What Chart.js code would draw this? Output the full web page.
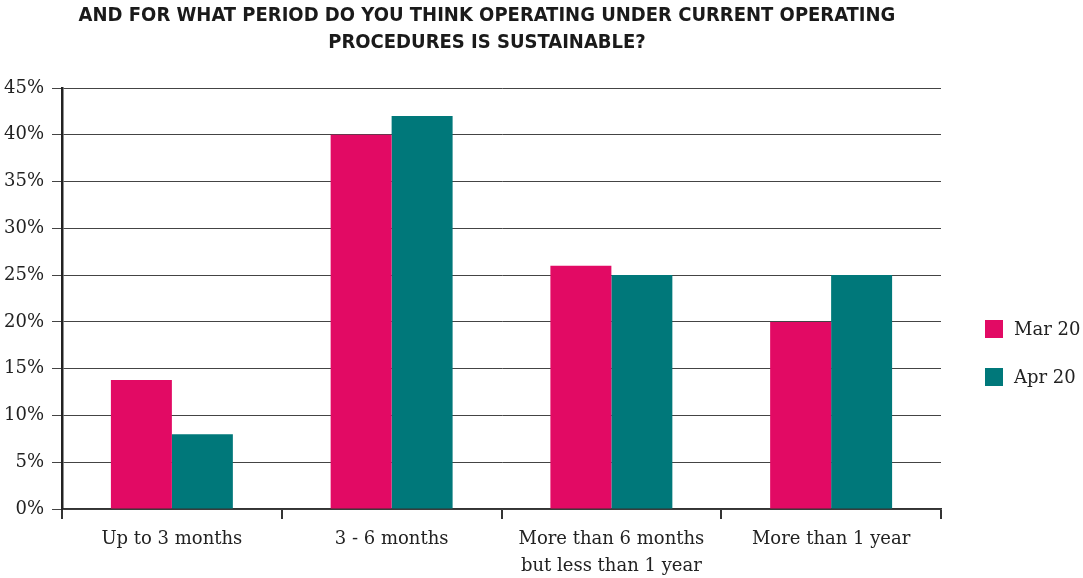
<!DOCTYPE html>
<html>
<head>
<meta charset="utf-8">
<script src="https://cdn.jsdelivr.net/npm/chart.js"></script>
<style>
  html, body { margin: 0; padding: 0; background: #fff; }
  #wrap { width: 1083px; height: 578px; position: relative; }
</style>
</head>
<body>
<div id="wrap"><canvas id="chart"></canvas></div>
<script>
// data
var categories = ['Up to 3 months', '3 - 6 months', ['More than 6 months', 'but less than 1 year'], 'More than 1 year'];
var mar20 = [13.8, 40, 26, 20];
var apr20 = [8, 42, 25, 25];
var seriesNames = ['Mar 20', 'Apr 20'];
var titleLines = ['AND FOR WHAT PERIOD DO YOU THINK OPERATING UNDER CURRENT OPERATING', 'PROCEDURES IS SUSTAINABLE?'];

var pink = '#e20a64';
var teal = '#00787a';
var serif = '"DejaVu Serif", serif';

// title + legend drawn by hand so they sit where the reference has them
var extras = {
  id: 'extras',
  afterDraw: function(chart) {
    var ctx = chart.ctx;
    ctx.save();
    ctx.fillStyle = '#1a1a1a';
    ctx.textAlign = 'center';
    ctx.textBaseline = 'middle';
    ctx.font = 'bold 20px "DejaVu Sans Condensed", "DejaVu Sans", sans-serif';
    titleLines.forEach(function(t, i) {
      ctx.fillText(t, 487, 16 + i * 27);
    });

    ctx.font = '18px ' + serif;
    ctx.textAlign = 'left';
    chart.data.datasets.forEach(function(ds, i) {
      var y = 329 + i * 48;
      ctx.fillStyle = ds.backgroundColor;
      ctx.fillRect(985, y - 9, 18, 18);
      ctx.fillStyle = '#222';
      ctx.fillText(ds.label, 1014, y + 1);
    });
    ctx.restore();
  }
};

new Chart(document.getElementById('chart'), {
  type: 'bar',
  data: {
    labels: categories,
    datasets: [
      { label: seriesNames[0], data: mar20, backgroundColor: pink },
      { label: seriesNames[1], data: apr20, backgroundColor: teal }
    ]
  },
  options: {
    responsive: true,
    maintainAspectRatio: false,
    animation: false,
    layout: { padding: { top: 88, right: 142, left: 0, bottom: 0 } },
    datasets: { bar: { categoryPercentage: 0.555, barPercentage: 1 } },
    plugins: {
      legend: { display: false },
      tooltip: { enabled: false }
    },
    scales: {
      x: {
        grid: { display: true, drawOnChartArea: false, drawTicks: true, tickLength: 10, color: '#333', lineWidth: 2, offset: true },
        border: { color: '#333', width: 1.5 },
        ticks: { color: '#222', font: { family: serif, size: 18, lineHeight: 1.5 }, padding: 7, maxRotation: 0 },
        afterFit: function(s) { s.height = 69; }
      },
      y: {
        min: 0, max: 45,
        ticks: { stepSize: 5, color: '#222', font: { family: serif, size: 18 }, padding: 8,
          callback: function(v) { return v + '%'; } },
        grid: { color: '#444', lineWidth: 1, tickLength: 10 },
        border: { color: '#222', width: 2.5 },
        afterFit: function(s) { s.width = 62; }
      }
    }
  },
  plugins: [extras]
});
</script>
</body>
</html>
